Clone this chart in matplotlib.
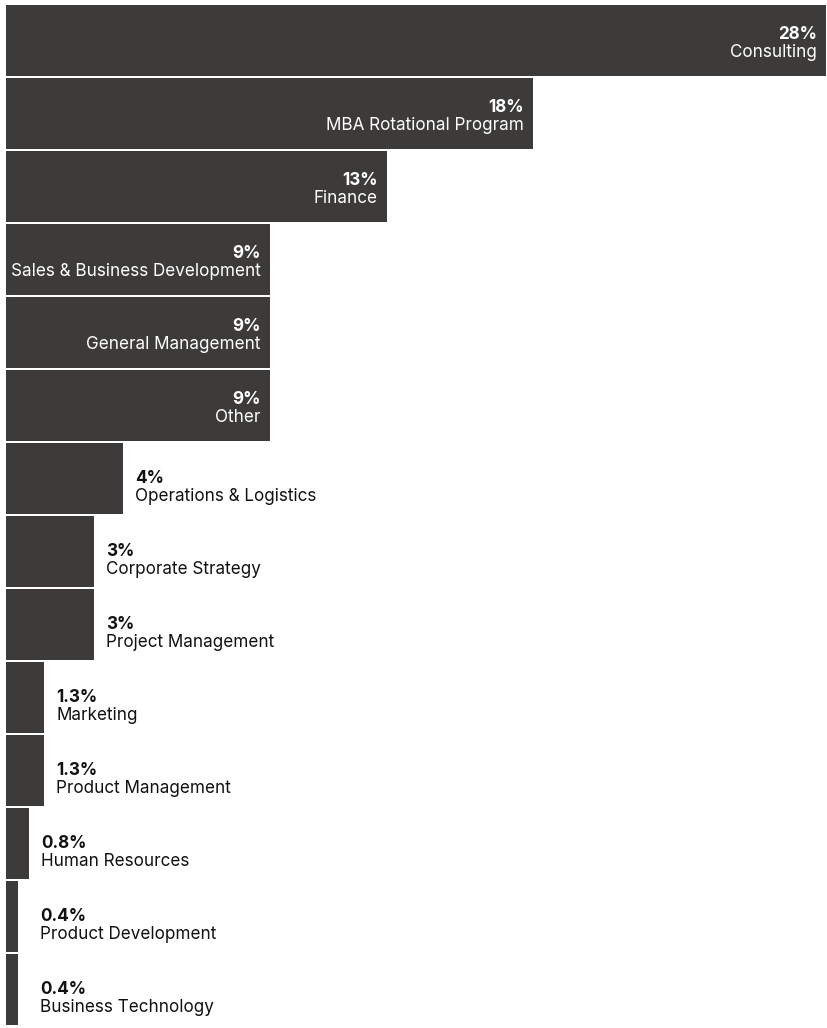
import matplotlib.pyplot as plt
from matplotlib.transforms import offset_copy

plt.rcParams['font.family'] = ['Inter', 'DejaVu Sans']

# Share of roles, largest first
roles = [
    'Consulting', 'MBA Rotational Program', 'Finance',
    'Sales & Business Development', 'General Management', 'Other',
    'Operations & Logistics', 'Corporate Strategy', 'Project Management',
    'Marketing', 'Product Management', 'Human Resources',
    'Product Development', 'Business Technology',
]
shares = [28, 18, 13, 9, 9, 9, 4, 3, 3, 1.3, 1.3, 0.8, 0.4, 0.4]

BAR = '#3c3b39'


def fmt(v):
    return f'{v:.0f}%' if v >= 2 else f'{v:.1f}%'


fig = plt.figure(figsize=(8.27, 10.28), dpi=100)
W, H = 827, 1028
ax = fig.add_axes([6 / W, 2 / H, 820 / W, 1022 / H])

ys = list(range(len(roles)))
ax.barh(ys, shares, height=0.965, color=BAR, left=0)
ax.set_xlim(0, max(shares))
ax.set_ylim(len(roles) - 0.5, -0.5)
ax.axis('off')

for y, v, name in zip(ys, shares, roles):
    if v >= 9:
        # label sits inside the bar, right aligned
        tr = offset_copy(ax.transData, fig=fig, x=-9, y=0, units='dots')
        ha, col = 'right', 'white'
        dy1, dy2 = 1.5, -16.5
    else:
        # short bars get the label just past the bar end
        end_px = ax.transData.transform((v, 0))[0]
        start_px = ax.transData.transform((0, 0))[0]
        off = max(end_px - start_px + 12, 34) - (end_px - start_px)
        tr = offset_copy(ax.transData, fig=fig, x=off, y=0, units='dots')
        ha, col = 'left', '#111111'
        dy1, dy2 = -4.5, -22.5
    t1 = offset_copy(tr, fig=fig, x=0, y=dy1, units='dots')
    t2 = offset_copy(tr, fig=fig, x=0, y=dy2, units='dots')
    ax.text(v, y, fmt(v), transform=t1, ha=ha, va='baseline',
            color=col, fontsize=12.3, fontweight='bold')
    ax.text(v, y, name, transform=t2, ha=ha, va='baseline',
            color=col, fontsize=12.3)

fig.savefig('out.png', dpi=100)
